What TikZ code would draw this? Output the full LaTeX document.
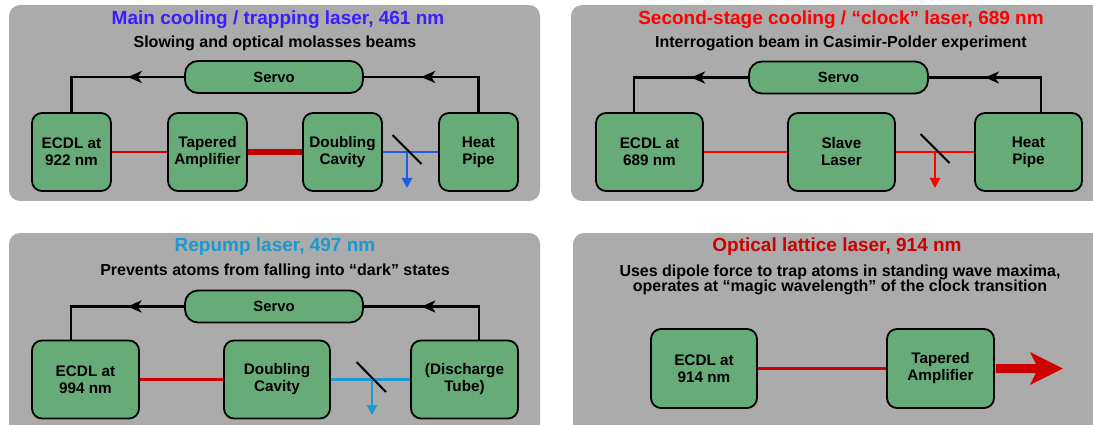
\documentclass[tikz,border=0pt]{standalone}
\usepackage{fontspec}
\setmainfont{Liberation Sans}
\usetikzlibrary{arrows.meta,calc}
\definecolor{panelgray}{RGB}{171,171,171}
\definecolor{boxgreen}{RGB}{103,172,120}
\definecolor{tblue}{RGB}{58,30,255}
\definecolor{tred}{RGB}{255,0,0}
\definecolor{tcyan}{RGB}{26,154,208}
\definecolor{tdred}{RGB}{204,0,0}
\definecolor{beamred}{RGB}{204,0,0}
\definecolor{beamdark}{RGB}{190,0,0}
\definecolor{beamblue}{RGB}{30,91,230}
\begin{document}
\begin{tikzpicture}[x=1pt,y=-1pt,
  panel/.style={fill=panelgray, rounded corners=11pt},
  lbox/.style={draw=black, line width=1.8pt, fill=boxgreen, rounded corners=10pt,
    minimum height=78pt, align=center, inner sep=0pt,
    font=\bfseries\fontsize{15.3}{17}\selectfont},
  servo/.style={draw=black, line width=1.8pt, fill=boxgreen, rounded corners=13pt,
    minimum width=178pt, minimum height=32pt, inner sep=0pt,
    font=\bfseries\fontsize{14.8}{17}\selectfont},
  title/.style={font=\bfseries\fontsize{19}{22}\selectfont, inner sep=0pt},
  sub/.style={font=\bfseries\fontsize{16}{15}\selectfont, align=center, inner sep=0pt},
  fb/.style={line width=2.5pt, draw=black},
  fbarrow/.style={line width=2.5pt, draw=black, -{Stealth[length=14pt,width=12pt,inset=4pt]}},
  beam/.style={line width=2.5pt},
  mirror/.style={line width=2pt, draw=black},
  outarrow/.style={line width=2.5pt, -{Triangle[length=10pt,width=10pt]}}
]
\useasboundingbox (0,0) rectangle (1093,425);

% panels
\fill[panel] (9,5) rectangle (540,201);
\fill[panel] (571,5) rectangle (1115,201);
\fill[panel] (9,233) rectangle (540,445);
\fill[panel] (573,233) rectangle (1115,445);

% ---------- Panel 1 ----------
\node[title, text=tblue] (T1) at (278,20) {Main cooling / trapping laser, 461 nm};
\node[sub] (S1) at (275,43) {Slowing and optical molasses beams};
\node[lbox, minimum width=79pt] (e1) at (71.5,152) {ECDL at\\922 nm};
\node[lbox, minimum width=79pt] (t1) at (207.5,152) {Tapered\\Amplifier};
\node[lbox, minimum width=79pt] (d1) at (342.5,152) {Doubling\\Cavity};
\node[lbox, minimum width=79pt] (h1) at (478.5,152) {Heat\\Pipe};
\node[servo] (s1) at (274,77) {Servo};
\draw[fb] (s1.west) -| (e1.north);
\draw[fbarrow] (s1.west) -- ($(s1.west)!0.5!(s1.west -| e1.north)$);
\draw[fb] (h1.north) |- (s1.east);
\draw[fbarrow] (s1.east -| h1.north) -- ($(s1.east -| h1.north)!0.5!(s1.east)$);
\draw[beam, beamred] (e1.east) -- (t1.west);
\draw[line width=6.5pt, beamdark] (t1.east) -- (d1.west);
\draw[beam, beamblue] (d1.east) -- (h1.west);
\coordinate (m1) at (407,152);
\coordinate (o1) at (407,188);
\draw[outarrow, beamblue] (m1) -- (o1);
\draw[mirror] ($(m1)+(-14.5,-17)$) -- ($(m1)+(14.5,12)$);

% ---------- Panel 2 ----------
\node[title, text=tred] (T2) at (841,20) {Second-stage cooling / “clock” laser, 689 nm};
\node[sub] (S2) at (841,43) {Interrogation beam in Casimir-Polder experiment};
\node[lbox, minimum width=107pt] (e2) at (649.5,152) {ECDL at\\689 nm};
\node[lbox, minimum width=107pt] (sl2) at (841.5,152) {Slave\\Laser};
\node[lbox, minimum width=107pt] (h2) at (1028.5,152) {Heat\\Pipe};
\node[servo, minimum width=179pt] (s2) at (838.5,77.5) {Servo};
\coordinate (e2top) at ($(e2.north)+(-15.5,0)$);
\coordinate (h2top) at ($(h2.north)+(12.5,0)$);
\draw[fb] (s2.west) -| (e2top);
\draw[fbarrow] (s2.west) -- ($(s2.west)!0.5!(s2.west -| e2top)$);
\draw[fb] (h2top) |- (s2.east);
\draw[fbarrow] (s2.east -| h2top) -- ($(s2.east -| h2top)!0.5!(s2.east)$);
\draw[beam, tred] (e2.east) -- (sl2.west);
\draw[beam, tred] (sl2.east) -- (h2.west);
\coordinate (m2) at (935,152);
\coordinate (o2) at (935,188);
\draw[outarrow, tred] (m2) -- (o2);
\draw[mirror] ($(m2)+(-14.5,-18)$) -- ($(m2)+(14.5,11)$);

% ---------- Panel 3 ----------
\node[title, text=tcyan] (T3) at (275,247) {Repump laser, 497 nm};
\node[sub] (S3) at (275,271) {Prevents atoms from falling into “dark” states};
\node[lbox, minimum width=107pt] (e3) at (85.5,379.5) {ECDL at\\994 nm};
\node[lbox, minimum width=106pt] (d3) at (277,379.5) {Doubling\\Cavity};
\node[lbox, minimum width=107pt] (dt3) at (464.5,379.5) {(Discharge\\Tube)};
\node[servo] (s3) at (274,306.5) {Servo};
\coordinate (e3top) at ($(e3.north)+(-14.5,0)$);
\coordinate (dt3top) at ($(dt3.north)+(14.5,0)$);
\draw[fb] (s3.west) -| (e3top);
\draw[fbarrow] (s3.west) -- ($(s3.west)!0.5!(s3.west -| e3top)$);
\draw[fb] (dt3top) |- (s3.east);
\draw[fbarrow] (s3.east -| dt3top) -- ($(s3.east -| dt3top)!0.5!(s3.east)$);
\draw[beam, beamred] (e3.east) -- (d3.west);
\draw[beam, tcyan] (d3.east) -- (dt3.west);
\coordinate (m3) at (372,379.5);
\coordinate (o3) at (372,415);
\draw[outarrow, tcyan] (m3) -- (o3);
\draw[mirror] ($(m3)+(-15.5,-17.5)$) -- ($(m3)+(14,12.5)$);

% ---------- Panel 4 ----------
\node[title, text=tdred] (T4) at (837,247) {Optical lattice laser, 914 nm};
\node[sub] (S4) at (840,280) {Uses dipole force to trap atoms in standing wave maxima,\\operates at “magic wavelength” of the clock transition};
\node[lbox, minimum width=106pt, minimum height=79pt] (e4) at (704,368.5) {ECDL at\\914 nm};
\node[lbox, minimum width=107pt, minimum height=79pt] (t4) at (940.5,368.5) {Tapered\\Amplifier};
\draw[beam, beamred] (e4.east) -- (t4.west);
\fill[beamred] ($(t4.east)+(0.9,-4.5)$) -- ($(t4.east)+(41,-4.5)$) -- ($(t4.east)+(35,-16.5)$)
  -- ($(t4.east)+(68,0)$) -- ($(t4.east)+(35,16.5)$) -- ($(t4.east)+(41,4.5)$)
  -- ($(t4.east)+(0.9,4.5)$) -- cycle;
\end{tikzpicture}
\end{document}
